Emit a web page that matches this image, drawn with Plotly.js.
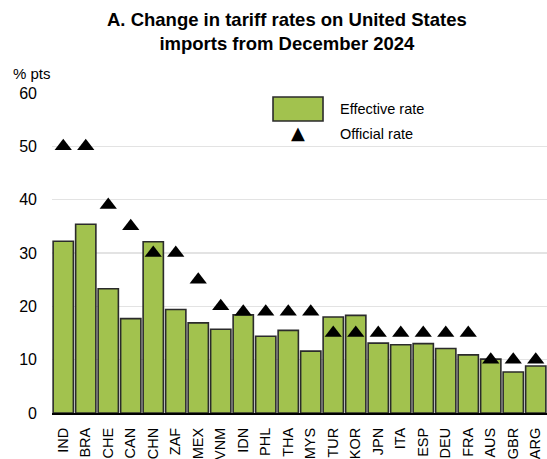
<!DOCTYPE html>
<html>
<head>
<meta charset="utf-8">
<script src="https://cdn.plot.ly/plotly-3.0.1.min.js"></script>
<style>html,body{margin:0;padding:0;background:#fff;}#chart{width:547px;height:459px;}</style>
</head>
<body>
<div id="chart"></div>
<script>
const countries = ["IND","BRA","CHE","CAN","CHN","ZAF","MEX","VNM","IDN","PHL","THA","MYS","TUR","KOR","JPN","ITA","ESP","DEU","FRA","AUS","GBR","ARG"];
const effectiveRate = [32.2,35.4,23.3,17.7,32.1,19.4,16.9,15.7,18.4,14.4,15.5,11.6,18.0,18.3,13.1,12.8,13.0,12.1,10.9,10.1,7.7,8.8];
const officialRate = [50,50,39,35,30,30,25,20,19,19,19,19,15,15,15,15,15,15,15,10,10,10];
const yTicks = [0,10,20,30,40,50,60];

const FONT = "Liberation Sans, Arial, sans-serif";
const green = "#A2C24E";

const traces = [
  {
    type: "bar", x: countries, y: effectiveRate, name: "Effective rate",
    marker: {color: green, line: {color: "#2b2b2b", width: 1.6}},
    hoverinfo: "x+y"
  },
  {
    type: "scatter", mode: "markers", x: countries, y: officialRate, name: "Official rate",
    marker: {symbol: "triangle-up", size: 15, color: "#000"},
    hoverinfo: "x+y"
  }
];

const layout = {
  width: 547, height: 459,
  margin: {l: 52, r: 0, t: 93, b: 46, pad: 0},
  paper_bgcolor: "#fff", plot_bgcolor: "#fff",
  showlegend: false,
  bargap: 0.1,
  font: {family: FONT, color: "#000"},
  xaxis: {
    type: "category", tickangle: -90, range: [-0.5, countries.length - 0.5], autorange: false,
    tickfont: {family: FONT, size: 14.5, color: "#000"},
    showline: true, linecolor: "#000", linewidth: 2,
    showgrid: false, ticks: "", ticklabelstandoff: 7,
    fixedrange: true
  },
  yaxis: {
    range: [0, 60], autorange: false, tickvals: yTicks,
    tickfont: {family: FONT, size: 16, color: "#000"},
    showgrid: true, gridcolor: "#e3e3e3", gridwidth: 1.5,
    zeroline: false, showline: false, ticks: "", ticklabelstandoff: 14,
    fixedrange: true
  },
  shapes: [
    {type: "rect", xref: "paper", yref: "paper", x0: 0.4465, x1: 0.5475, y0: 0.9125, y1: 0.9875,
     fillcolor: green, line: {color: "#2b2b2b", width: 1.6}}
  ],
  annotations: [
    {xref: "paper", yref: "paper", x: 0.475, y: 1.27, xanchor: "center", yanchor: "top",
     text: "<b>A. Change in tariff rates on United States<br>imports from December 2024</b>",
     showarrow: false, align: "center", font: {family: FONT, size: 18.5, color: "#000"}},
    {xref: "paper", yref: "paper", x: -0.083, y: 1.0625, xanchor: "left", yanchor: "middle",
     text: "% pts", showarrow: false, font: {family: FONT, size: 15, color: "#000"}},
    {xref: "paper", yref: "paper", x: 0.5778, y: 0.95, xanchor: "left", yanchor: "middle",
     text: "Effective rate", showarrow: false, font: {family: FONT, size: 14.5, color: "#000"}},
    {xref: "paper", yref: "paper", x: 0.5778, y: 0.8719, xanchor: "left", yanchor: "middle",
     text: "Official rate", showarrow: false, font: {family: FONT, size: 14.5, color: "#000"}},
    {xref: "paper", yref: "paper", x: 0.497, y: 0.877, xanchor: "center", yanchor: "middle",
     text: "▲", showarrow: false, font: {family: "DejaVu Sans", size: 18, color: "#000"}}
  ]
};

Plotly.newPlot("chart", traces, layout, {displayModeBar: false, staticPlot: true});
</script>
</body>
</html>
